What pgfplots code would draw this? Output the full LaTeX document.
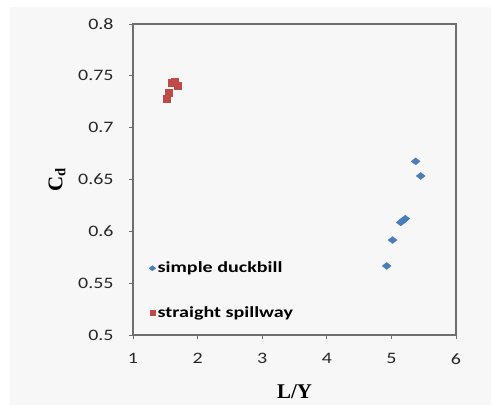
\documentclass[border=0pt]{standalone}
\usepackage{fontspec}
\usepackage{pgfplots}
\pgfplotsset{compat=1.18}
\newfontfamily\calib{Carlito}[FakeStretch=1.25]
\newfontfamily\calibb{Carlito Bold}[FakeStretch=1.3]
\newfontfamily\tnr{Liberation Serif}
\definecolor{bgray}{HTML}{F7F7F7}
\definecolor{duck}{HTML}{4A7EBB}
\definecolor{spill}{HTML}{BE4B48}
\definecolor{frame}{HTML}{6E6E6E}

\begin{document}
\begin{tikzpicture}
	\fill[white] (0,0) rectangle (491bp,405bp);
	\fill[bgray] (10bp,0) rectangle (491bp,398bp);
	\begin{axis}[%
		at={(133bp,70bp)}, anchor=south west,
		scale only axis, width=323bp, height=311bp,
		xmin=1, xmax=6, ymin=0.5, ymax=0.8,
		xtick={1,2,...,6},
		ytick={0.5,0.55,...,0.81},
		/pgf/number format/assume math mode=true,
		axis line style={frame, line width=1.2bp},
		tick style={frame, line width=0.8bp},
		tick align=outside, major tick length=4bp,
		xtick pos=left, ytick pos=left,
		ticklabel style={font=\calib\fontsize{16}{18}\selectfont, text=black!85},
		xticklabel style={yshift=-11bp},
		yticklabel style={xshift=-12bp, /pgf/number format/fixed, /pgf/number format/precision=2},
		xlabel={{\tnr\bfseries L/Y}},
		ylabel={{\tnr\bfseries C\textsubscript{d}}},
		label style={font=\fontsize{21}{24}\selectfont},
		xlabel style={at={(axis description cs:0.5,-0.183)}, anchor=center},
		ylabel style={at={(axis description cs:-0.235,0.5)}, anchor=center},
		legend style={draw=none, fill=none, at={(0.04,0.248)}, anchor=north west,
			font=\calibb\fontsize{15.5}{18}\selectfont, row sep=28bp,
			legend cell align=left},
		legend image code/.code={\draw[mark repeat=2,mark phase=2, mark size=2.6pt] plot coordinates {(0cm,0cm)(0.08cm,0cm)(0.3cm,0cm)};},
		]
		\addplot[only marks, mark=diamond*, mark size=3.5pt, duck,
			mark options={draw=none, fill=duck, xscale=1.7}]
			coordinates {
				(5.376,0.6675)
				(5.453,0.6534)
				(5.144,0.6086)
				(5.180,0.6104)
				(5.215,0.6122)
				(5.018,0.5916)
				(4.927,0.5666)};
		\addplot[only marks, mark=square*, mark size=3.6pt, spill,
			mark options={draw=none, fill=spill}]
			coordinates {
				(1.52,0.7277)
				(1.557,0.7334)
				(1.60,0.7430)
				(1.64,0.7446)
				(1.686,0.7405)};
		\legend{simple duckbill, straight spillway}
	\end{axis}
\end{tikzpicture}
\end{document}
